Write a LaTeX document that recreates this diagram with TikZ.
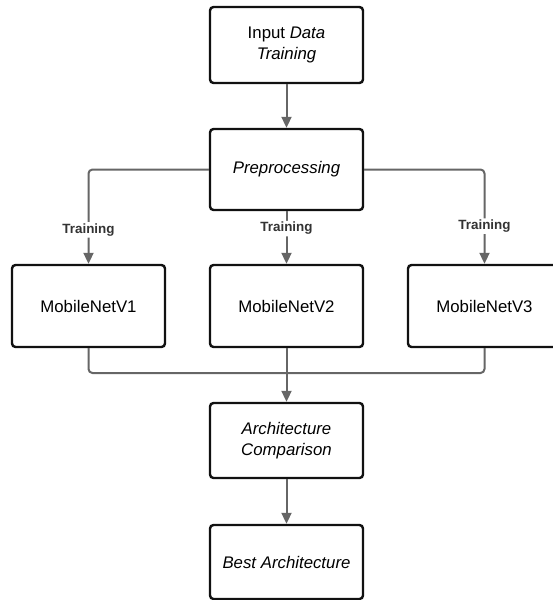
\documentclass[tikz,border=0pt]{standalone}
\usepackage{fontspec}
\setmainfont{Liberation Sans}
\usetikzlibrary{arrows.meta,positioning}
\definecolor{edgegray}{HTML}{666666}
\definecolor{boxline}{HTML}{111111}
\begin{document}
\begin{tikzpicture}[x=1pt,y=1pt,
  stepbox/.style={draw=boxline,line width=2.4pt,rounded corners=3.5pt,fill=white,
    minimum width=153pt,align=center,inner sep=2pt,
    font=\fontsize{16.8}{21}\selectfont},
  flow/.style={draw=edgegray,line width=2pt,rounded corners=4pt,
    -{Triangle[length=11pt,width=10pt]}},
  link/.style={draw=edgegray,line width=2pt,rounded corners=4pt},
  lbl/.style={fill=white,inner sep=1.5pt,text=black!80,
    font=\bfseries\fontsize{13.4}{15}\selectfont}]
\useasboundingbox (0,0) rectangle (552,-600);

% boxes
\node[stepbox,minimum height=76pt] (inp) at (286.5,-45) {Input \textit{Data}\\\textit{Training}};
\node[stepbox,minimum height=81pt] (pre) at (286.5,-169.5) {\textit{Preprocessing}};
\node[stepbox,minimum height=82pt] (m1) at (88.5,-306) {MobileNetV1};
\node[stepbox,minimum height=82pt] (m2) at (286.5,-306) {MobileNetV2};
\node[stepbox,minimum height=82pt] (m3) at (484.5,-306) {MobileNetV3};
\node[stepbox,minimum height=75pt] (cmp) at (286.5,-440.5) {\textit{Architecture}\\\textit{Comparison}};
\node[stepbox,minimum height=74pt] (best) at (286.5,-562) {\textit{Best Architecture}};

% connectors
\draw[flow] (inp.south) -- (pre.north);
\draw[flow] (pre.west) -| (m1.north) node[lbl,pos=0.82] {Training};
\draw[flow] (pre.south) -- (m2.north) node[lbl,pos=0.33] {Training};
\draw[flow] (pre.east) -| (m3.north) node[lbl,pos=0.80] {Training};

\coordinate (join) at (286.5,-373);
\draw[link] (m1.south) |- (join);
\draw[link] (m3.south) |- (join);
\draw[link] (m2.south) -- (join);
\draw[flow] (join) -- (cmp.north);
\draw[flow] (cmp.south) -- (best.north);
\end{tikzpicture}
\end{document}
